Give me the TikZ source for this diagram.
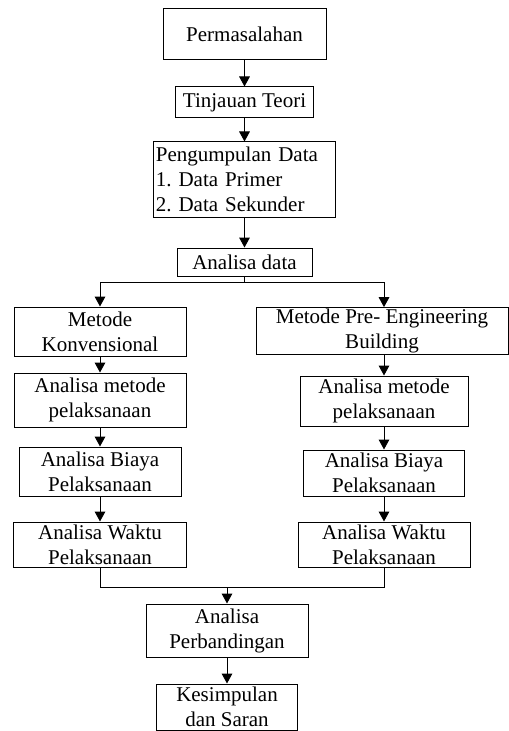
\documentclass[tikz,border=0pt]{standalone}
\usepackage{fontspec}
\setmainfont{Liberation Serif}
\usetikzlibrary{arrows.meta, positioning}

\tikzset{
  kotak/.style={draw, line width=0.75pt, align=center, inner sep=1pt, font=\fontsize{15.75}{18.75}\selectfont\frenchspacing},
  panah/.style={line width=0.75pt, -{Triangle[length=7.5pt,width=8pt]}},
  garis/.style={line width=0.75pt},
}

\begin{document}
\begin{tikzpicture}[x=0.75pt,y=0.75pt,yscale=-1,xscale=1]
\useasboundingbox (0,0) rectangle (509,731);

%Shape: Rectangle [Permasalahan]
\node[kotak, minimum width=122.25pt, minimum height=38.25pt] (masalah) at (244.5,34.5) {Permasalahan};
%Shape: Rectangle [Tinjauan Teori]
\node[kotak, minimum width=103.5pt, minimum height=23.25pt] (teori) at (244.5,102.5) {Tinjauan Teori};
%Shape: Rectangle [Pengumpulan Data]
\node[kotak, align=left, text width=133pt, inner xsep=1.5pt, inner ysep=0pt, minimum height=56.25pt] (kumpul) at (244.5,179.5) {Pengumpulan Data\\1. Data Primer\\2. Data Sekunder};
%Shape: Rectangle [Analisa data]
\node[kotak, minimum width=101.25pt, minimum height=21pt] (data) at (244.5,262) {Analisa data};

%Shape: Rectangle [kolom kiri]
\node[kotak, minimum width=129pt, minimum height=36.75pt] (konv) at (100,331.5) {Metode\\Konvensional};
\node[kotak, minimum width=129pt, minimum height=40.5pt] (konvmetode) at (100,400) {Analisa metode\\pelaksanaan};
\node[kotak, minimum width=121.5pt, minimum height=36.75pt] (konvbiaya) at (100,471.5) {Analisa Biaya\\Pelaksanaan};
\node[kotak, minimum width=129.75pt, minimum height=33.75pt] (konvwaktu) at (100,544.5) {Analisa Waktu\\Pelaksanaan};

%Shape: Rectangle [kolom kanan]
\node[kotak, minimum width=189pt, minimum height=34.5pt] (peb) at (382,331) {Metode Pre- Engineering\\Building};
\node[kotak, minimum width=126pt, minimum height=37.5pt] (pebmetode) at (384,401) {Analisa metode\\pelaksanaan};
\node[kotak, minimum width=120.75pt, minimum height=34.5pt] (pebbiaya) at (384,473) {Analisa Biaya\\Pelaksanaan};
\node[kotak, minimum width=129pt, minimum height=33.75pt] (pebwaktu) at (384,544.5) {Analisa Waktu\\Pelaksanaan};

%Shape: Rectangle [bawah]
\node[kotak, minimum width=121.5pt, minimum height=39.75pt] (banding) at (227,630.5) {Analisa\\Perbandingan};
\node[kotak, minimum width=105.75pt, minimum height=34.5pt] (simpul) at (227,707) {Kesimpulan\\dan Saran};

%Straight Lines [alur atas]
\draw[panah] (masalah) -- (teori);
\draw[panah] (teori) -- (kumpul);
\draw[panah] (kumpul) -- (data);
%Straight Lines [cabang]
\coordinate (cabang) at (244.5,282);
\draw[garis] (data.south) -- (cabang);
\draw[panah] (cabang) -| (konv.north);
\draw[panah] (cabang) -| (pebmetode.north |- peb.north);
%Straight Lines [kolom kiri]
\draw[panah] (konv) -- (konvmetode);
\draw[panah] (konvmetode) -- (konvbiaya);
\draw[panah] (konvbiaya) -- (konvwaktu);
%Straight Lines [kolom kanan]
\draw[panah] (pebmetode.north |- peb.south) -- (pebmetode.north);
\draw[panah] (pebmetode) -- (pebbiaya);
\draw[panah] (pebbiaya) -- (pebwaktu);
%Straight Lines [gabung]
\coordinate (gabung) at (227,587);
\draw[garis] (konvwaktu.south) |- (gabung);
\draw[garis] (pebwaktu.south) |- (gabung);
\draw[panah] (gabung) -- (banding.north);
\draw[panah] (banding) -- (simpul);

\end{tikzpicture}
\end{document}
